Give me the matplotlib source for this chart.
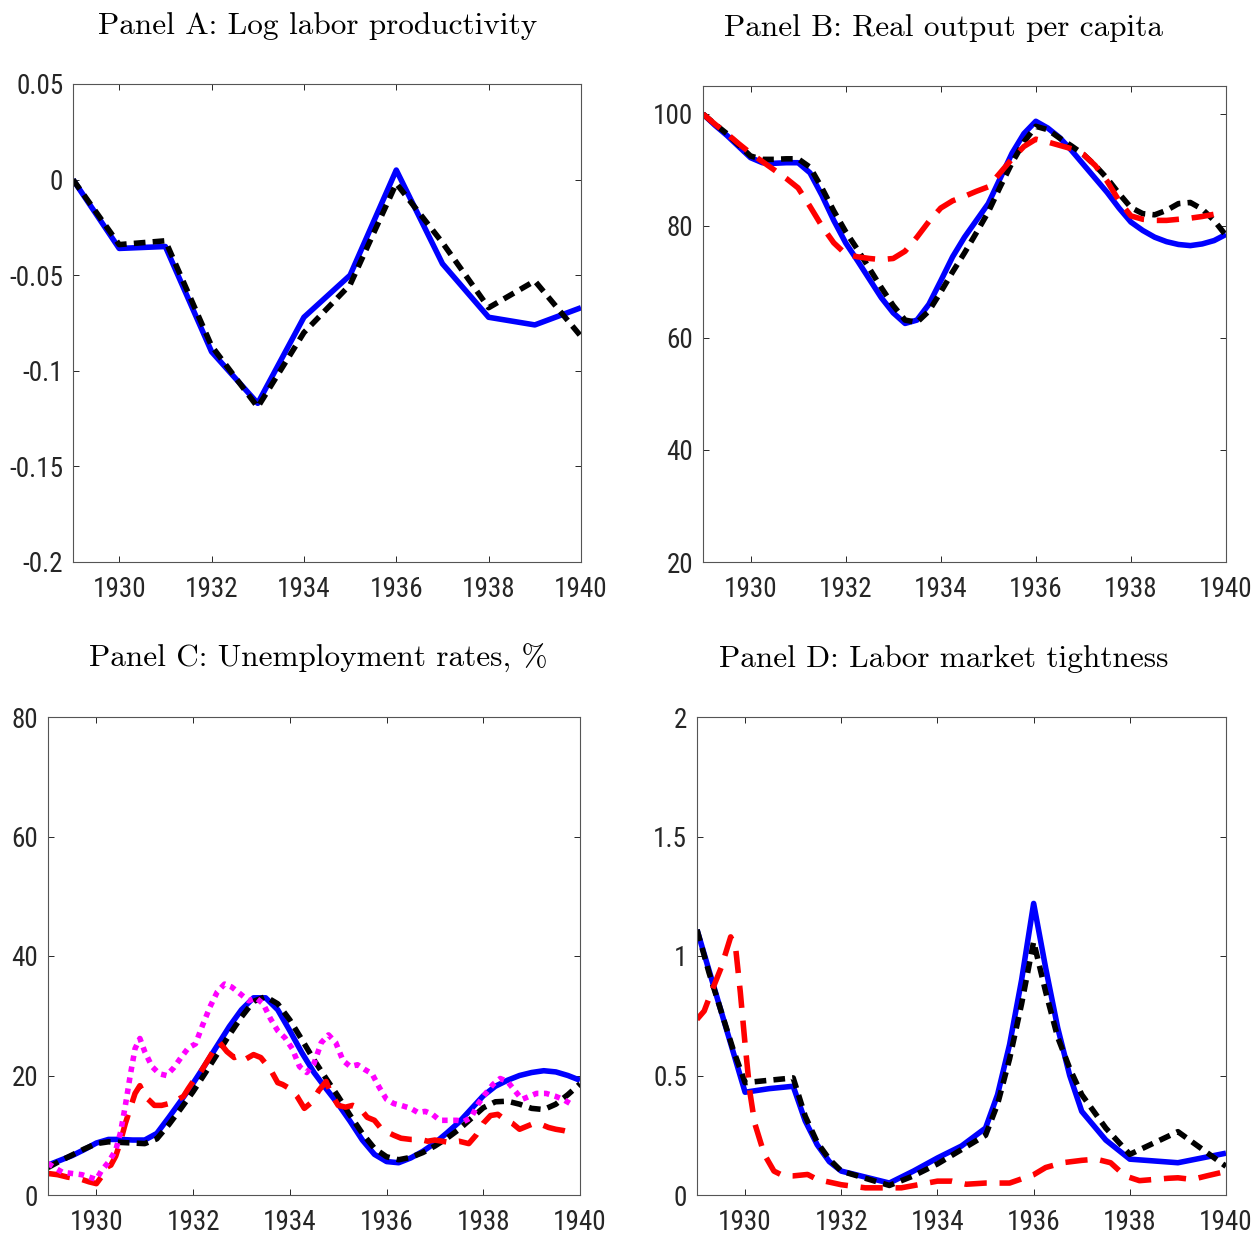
import matplotlib
matplotlib.use('Agg')
import matplotlib.pyplot as plt
from matplotlib import font_manager as fm
import numpy as np

# ---- Panel A: log labor productivity (annual) ----
years_a = [1929, 1930, 1931, 1932, 1933, 1934, 1935, 1936, 1937, 1938, 1939, 1940]
prod_blue = [0.0, -0.036, -0.035, -0.090, -0.117, -0.072, -0.050, 0.005, -0.044, -0.072, -0.076, -0.067]
prod_black = [0.0, -0.034, -0.032, -0.087, -0.119, -0.080, -0.055, -0.002, -0.033, -0.067, -0.053, -0.082]

# ---- Panel B: real output per capita (quarterly) ----
t_b = [1929, 1929.25, 1929.5, 1929.75, 1930, 1930.25, 1930.5, 1930.75, 1931, 1931.25,
       1931.5, 1931.75, 1932, 1932.25, 1932.5, 1932.75, 1933, 1933.25, 1933.5, 1933.75,
       1934, 1934.25, 1934.5, 1934.75, 1935, 1935.25, 1935.5, 1935.75, 1936, 1936.25,
       1936.5, 1936.75, 1937, 1937.25, 1937.5, 1937.75, 1938, 1938.25, 1938.5, 1938.75,
       1939, 1939.25, 1939.5, 1939.75, 1940]
out_blue = [100, 98.0, 96.2, 94.2, 92.2, 91.3, 91.2, 91.3, 91.3, 89.5,
            85.5, 81.0, 77.0, 73.8, 70.5, 67.2, 64.5, 62.6, 63.2, 66.0,
            70.2, 74.5, 78.0, 81.0, 84.0, 88.5, 93.0, 96.5, 98.7, 97.5,
            95.8, 93.5, 91.0, 88.5, 86.0, 83.2, 80.7, 79.2, 78.0, 77.2,
            76.7, 76.5, 76.8, 77.4, 78.5]
out_black = [100, 98.2, 96.5, 94.5, 92.5, 91.9, 91.9, 92.0, 92.0, 90.5,
             86.8, 82.7, 79.0, 75.8, 72.4, 69.0, 65.8, 63.2, 62.8, 64.8,
             68.2, 71.8, 75.2, 78.8, 82.5, 87.0, 91.3, 95.0, 97.8, 97.2,
             95.7, 94.3, 92.8, 90.8, 88.5, 85.8, 83.3, 82.2, 82.0, 82.8,
             84.0, 84.2, 83.0, 81.0, 78.3]
out_red = [100, 98.2, 96.5, 94.7, 93.0, 91.5, 90.0, 88.5, 86.8, 83.5,
           80.0, 77.0, 75.0, 74.5, 74.2, 74.0, 74.2, 75.5, 78.0, 80.8,
           83.2, 84.5, 85.3, 86.2, 87.0, 89.5, 92.0, 94.2, 95.5, 95.0,
           94.4, 93.8, 92.8, 90.8, 88.0, 84.5, 81.8, 81.2, 81.0, 81.0,
           81.2, 81.4, 81.7, 82.1, 82.5]

# ---- Panel C: unemployment rates, % ----
t_c = t_b
unemp_blue = [5.0, 5.8, 6.6, 7.6, 8.7, 9.3, 9.3, 9.2, 9.2, 10.3,
              13.0, 15.8, 18.7, 21.8, 25.0, 28.2, 31.0, 33.0, 33.0, 31.0,
              27.5, 23.8, 20.5, 17.8, 15.2, 12.3, 9.2, 6.8, 5.6, 5.4,
              6.2, 7.3, 8.7, 10.4, 12.2, 14.4, 16.6, 18.2, 19.2, 20.0,
              20.5, 20.8, 20.6, 20.0, 19.2]
unemp_black = [4.6, 5.7, 6.7, 7.7, 8.6, 8.9, 8.8, 8.7, 8.6, 9.4,
               11.8, 14.5, 17.3, 20.4, 23.6, 26.8, 29.8, 32.4, 33.2, 32.0,
               29.3, 26.0, 22.6, 19.5, 16.5, 13.3, 10.3, 7.8, 6.4, 5.9,
               6.3, 7.1, 8.2, 9.5, 11.0, 12.8, 14.6, 15.6, 15.7, 15.2,
               14.5, 14.3, 15.2, 16.8, 18.6]
t_c_red = [1929.0, 1929.2, 1929.4, 1929.55, 1929.7, 1929.85, 1930.0, 1930.1, 1930.2, 1930.3,
           1930.4, 1930.5, 1930.6, 1930.7, 1930.8, 1930.9, 1931.0, 1931.1, 1931.2, 1931.35,
           1931.5, 1931.65, 1931.8, 1931.9, 1932.0, 1932.15, 1932.3, 1932.45, 1932.55, 1932.7,
           1932.85, 1933.0, 1933.1, 1933.25, 1933.4, 1933.6, 1933.75, 1933.85, 1934.0, 1934.15,
           1934.3, 1934.45, 1934.6, 1934.75, 1934.85, 1935.0, 1935.15, 1935.3, 1935.45, 1935.6,
           1935.75, 1935.9, 1936.0, 1936.15, 1936.3, 1936.5, 1936.7, 1936.85, 1937.0, 1937.15,
           1937.3, 1937.5, 1937.7, 1937.85, 1938.0, 1938.15, 1938.3, 1938.45, 1938.6, 1938.75,
           1938.9, 1939.05, 1939.2, 1939.35, 1939.5, 1939.65, 1939.8]
unemp_red = [3.6, 3.4, 3.0, 2.8, 2.6, 2.2, 1.9, 3.0, 4.6, 5.0,
             6.5, 9.0, 12.0, 14.5, 17.0, 18.3, 16.5, 15.8, 15.0, 15.0,
             15.3, 15.8, 16.5, 17.8, 19.0, 20.5, 22.5, 24.5, 25.5, 24.0,
             23.0, 23.5, 22.8, 23.5, 23.0, 21.0, 18.8, 18.5, 17.8, 16.5,
             14.5, 15.5, 17.5, 19.0, 17.0, 15.0, 14.7, 15.0, 14.5, 13.0,
             12.5, 11.0, 10.6, 10.0, 9.5, 9.3, 9.3, 9.0, 9.2, 9.0,
             8.8, 9.0, 8.6, 10.0, 12.0, 13.3, 13.5, 12.6, 12.0, 11.0,
             11.5, 12.0, 11.8, 11.3, 11.0, 10.8, 10.5]
t_c_mag = [1929.0, 1929.15, 1929.3, 1929.5, 1929.7, 1929.85, 1930.0, 1930.1, 1930.25, 1930.4,
           1930.5, 1930.6, 1930.7, 1930.8, 1930.9, 1931.0, 1931.15, 1931.3, 1931.45, 1931.6,
           1931.75, 1931.9, 1932.05, 1932.2, 1932.35, 1932.5, 1932.65, 1932.8, 1933.0, 1933.15,
           1933.3, 1933.45, 1933.6, 1933.75, 1933.9, 1934.05, 1934.2, 1934.35, 1934.5, 1934.65,
           1934.8, 1934.95, 1935.1, 1935.25, 1935.4, 1935.55, 1935.7, 1935.85, 1936.0, 1936.15,
           1936.3, 1936.5, 1936.65, 1936.8, 1936.95, 1937.1, 1937.25, 1937.45, 1937.6, 1937.75,
           1937.9, 1938.05, 1938.2, 1938.35, 1938.5, 1938.65, 1938.8, 1938.95, 1939.1, 1939.3,
           1939.5, 1939.65, 1939.8]
unemp_mag = [5.3, 4.5, 3.8, 3.6, 3.4, 3.0, 2.6, 4.0, 5.5, 7.5,
             10.5, 15.0, 20.0, 24.5, 26.2, 24.0, 21.5, 20.3, 20.0, 21.3,
             23.0, 24.6, 25.3, 28.5, 31.5, 34.0, 35.3, 34.8, 33.5, 32.5,
             33.0, 32.0, 29.5, 27.5, 26.3, 24.5, 21.5, 20.5, 22.0, 25.5,
             26.8, 25.5, 22.5, 21.5, 21.8, 21.0, 20.3, 18.0, 16.0, 15.3,
             15.0, 14.5, 13.8, 14.0, 13.5, 12.5, 12.5, 12.5, 12.3, 13.0,
             15.3, 17.0, 18.5, 19.5, 19.0, 17.5, 16.0, 16.5, 17.0, 17.0,
             16.5, 16.0, 15.3]

# ---- Panel D: labor market tightness ----
t_d = [1929, 1929.25, 1929.5, 1929.75, 1930, 1930.5, 1931, 1931.25, 1931.5, 1931.75,
       1932, 1932.5, 1933, 1933.5, 1934, 1934.5, 1935, 1935.25, 1935.5, 1935.75,
       1936, 1936.25, 1936.5, 1936.75, 1937, 1937.5, 1938, 1939, 1940]
tight_blue = [1.11, 0.94, 0.77, 0.60, 0.43, 0.445, 0.455, 0.31, 0.21, 0.14,
              0.10, 0.075, 0.05, 0.10, 0.155, 0.205, 0.28, 0.42, 0.63, 0.90,
              1.22, 0.95, 0.70, 0.50, 0.35, 0.23, 0.15, 0.135, 0.175]
tight_black = [1.11, 0.93, 0.77, 0.61, 0.47, 0.48, 0.49, 0.33, 0.22, 0.15,
               0.10, 0.07, 0.04, 0.08, 0.13, 0.19, 0.25, 0.38, 0.57, 0.80,
               1.06, 0.85, 0.66, 0.53, 0.42, 0.28, 0.17, 0.265, 0.12]
t_d_red = [1929.0, 1929.15, 1929.3, 1929.5, 1929.7, 1929.8, 1929.9, 1930.0, 1930.1, 1930.2,
           1930.4, 1930.6, 1930.8, 1931.0, 1931.3, 1931.5, 1932.0, 1932.5, 1933.0, 1933.25,
           1933.6, 1934.0, 1934.3, 1934.6, 1935.0, 1935.5, 1936.0, 1936.25, 1936.6, 1937.0,
           1937.3, 1937.6, 1937.9, 1938.2, 1938.5, 1938.8, 1939.0, 1939.3, 1939.6, 1939.9]
tight_red = [0.735, 0.77, 0.85, 0.95, 1.08, 1.04, 0.85, 0.63, 0.43, 0.30,
             0.17, 0.10, 0.08, 0.08, 0.086, 0.065, 0.043, 0.03, 0.03, 0.03,
             0.043, 0.058, 0.058, 0.045, 0.05, 0.05, 0.085, 0.115, 0.135, 0.145,
             0.15, 0.135, 0.08, 0.06, 0.065, 0.07, 0.072, 0.065, 0.08, 0.094]

titles = ['Panel A: Log labor productivity', 'Panel B: Real output per capita',
          'Panel C: Unemployment rates, %', 'Panel D: Labor market tightness']
xticks = [1930, 1932, 1934, 1936, 1938, 1940]
yticks_a = [-0.2, -0.15, -0.1, -0.05, 0, 0.05]
ylabels_a = ['-0.2', '-0.15', '-0.1', '-0.05', '0', '0.05']
yticks_b = [20, 40, 60, 80, 100]
yticks_c = [0, 20, 40, 60, 80]
yticks_d = [0, 0.5, 1, 1.5, 2]
ylabels_d = ['0', '0.5', '1', '1.5', '2']


def pick(names):
    for n in names:
        try:
            fm.findfont(fm.FontProperties(family=n), fallback_to_default=False)
            return n
        except Exception:
            pass
    return 'DejaVu Sans'


tick_font = pick(['Liberation Sans Narrow', 'Roboto Condensed', 'Liberation Sans'])
title_font = pick(['cmr10', 'Liberation Serif'])

fig = plt.figure(figsize=(12.55, 12.39), dpi=100)
W, H = 1255.0, 1239.0


def make_ax(l, t, r, b):
    return fig.add_axes([l / W, 1 - b / H, (r - l) / W, (b - t) / H])


# axes boxes in pixels (left, top, right, bottom) and title centres in pixels
ax_a = make_ax(73, 84, 581, 562)
ax_b = make_ax(703, 86, 1226, 562)
ax_c = make_ax(48, 717, 580, 1195)
ax_d = make_ax(697, 717, 1226, 1195)
boxes = [(73, 581), (703, 1226), (48, 580), (697, 1226)]
title_cx = [318, 944, 318, 944]

LW = 4.0
blue = dict(color='#0000ff', lw=LW, solid_capstyle='butt', solid_joinstyle='round')
black = dict(color='black', lw=LW, dashes=(2.1, 1.3), dash_capstyle='butt')
red = dict(color='#ff0000', lw=LW, dashes=(4.0, 2.3), dash_capstyle='butt')
magenta = dict(color='#ff00ff', lw=LW, dashes=(1.0, 1.0), dash_capstyle='butt')

ax_a.plot(years_a, prod_blue, **blue)
ax_a.plot(years_a, prod_black, **black)
ax_a.set_ylim(-0.2, 0.05)
ax_a.set_yticks(yticks_a)
ax_a.set_yticklabels(ylabels_a)

ax_b.plot(t_b, out_blue, **blue)
ax_b.plot(t_b, out_black, **black)
ax_b.plot(t_b, out_red, **red)
ax_b.set_ylim(20, 105)
ax_b.set_yticks(yticks_b)
ax_b.set_yticklabels([str(v) for v in yticks_b])

ax_c.plot(t_c, unemp_blue, **blue)
ax_c.plot(t_c, unemp_black, **black)
ax_c.plot(t_c_red, unemp_red, **red)
ax_c.plot(t_c_mag, unemp_mag, **magenta)
ax_c.set_ylim(0, 80)
ax_c.set_yticks(yticks_c)
ax_c.set_yticklabels([str(v) for v in yticks_c])

ax_d.plot(t_d, tight_blue, **blue)
ax_d.plot(t_d, tight_black, **black)
ax_d.plot(t_d_red, tight_red, **red)
ax_d.set_ylim(0, 2)
ax_d.set_yticks(yticks_d)
ax_d.set_yticklabels(ylabels_d)

for ax, title, (l, r), cx in zip([ax_a, ax_b, ax_c, ax_d], titles, boxes, title_cx):
    ax.set_xlim(1929, 1940)
    ax.set_xticks(xticks)
    ax.set_xticklabels([str(v) for v in xticks])
    ax.tick_params(direction='in', length=4.5, width=0.7, top=True, right=True,
                   colors='#262626', labelsize=19.5, pad=7)
    ax.tick_params(axis='x', pad=10)
    for lab in ax.get_xticklabels() + ax.get_yticklabels():
        lab.set_fontfamily(tick_font)
    for sp in ax.spines.values():
        sp.set_color('#555555')
        sp.set_linewidth(0.8)
    ax.set_title(title, fontsize=22.5, fontfamily=title_font, color='black', pad=36)
    ax.title.set_x((cx - l) / float(r - l))

fig.savefig('out.png', dpi=100)
